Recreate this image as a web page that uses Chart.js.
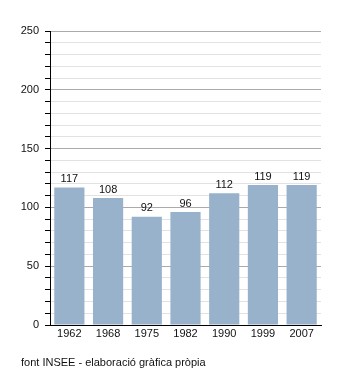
<!DOCTYPE html>
<html>
<head>
<meta charset="utf-8">
<script src="https://cdn.jsdelivr.net/npm/chart.js@4/dist/chart.umd.min.js"></script>
<style>
  html, body { margin: 0; padding: 0; background: #fff; }
  #wrap { width: 350px; height: 373px; position: relative; }
</style>
</head>
<body>
<div id="wrap"><canvas id="popChart"></canvas></div>
<script>
// Population index by census year
const years = ["1962", "1968", "1975", "1982", "1990", "1999", "2007"];
const values = [117, 108, 92, 96, 112, 119, 119];
const yTicks = [0, 50, 100, 150, 200, 250];
const sourceNote = "font INSEE - elaboració gràfica pròpia";

const FONT = "'Liberation Sans', Arial, sans-serif";

// value labels above each bar + source line at the bottom
const labelsPlugin = {
    id: "barLabels",
    afterDatasetsDraw(chart) {
        const c = chart.ctx;
        const meta = chart.getDatasetMeta(0);
        c.save();
        c.font = "11px " + FONT;
        c.fillStyle = "#111";
        c.textAlign = "center";
        c.textBaseline = "bottom";
        meta.data.forEach((bar, i) => {
            c.fillText(String(values[i]), bar.x, bar.y - 3);
        });
        c.textAlign = "left";
        c.textBaseline = "alphabetic";
        c.fillText(sourceNote, 21, 366);
        c.restore();
    }
};

new Chart(document.getElementById("popChart"), {
    type: "bar",
    data: {
        labels: years,
        datasets: [{
            data: values,
            backgroundColor: "#98b2cb",
            borderWidth: 0,
            barPercentage: 0.78,
            categoryPercentage: 1
        }]
    },
    options: {
        responsive: true,
        maintainAspectRatio: false,
        animation: false,
        layout: { padding: { left: 0, right: 29, top: 31, bottom: 29 } },
        plugins: {
            legend: { display: false },
            tooltip: { enabled: false }
        },
        scales: {
            x: {
                grid: { display: false, drawTicks: false },
                border: { display: true, color: "#000", width: 1 },
                ticks: {
                    color: "#111",
                    font: { family: FONT, size: 11 },
                    padding: 2,
                    maxRotation: 0
                },
                afterFit(scale) { scale.height = 19; }
            },
            y: {
                min: 0,
                max: 250,
                ticks: {
                    stepSize: 10,
                    autoSkip: false,
                    color: "#111",
                    font: { family: FONT, size: 11 },
                    padding: 6,
                    callback: v => yTicks.includes(v) ? v : ""
                },
                grid: {
                    drawTicks: true,
                    tickLength: 5,
                    tickColor: "#000",
                    color: ctx => (ctx.tick && ctx.tick.value % 50 === 0) ? "#aaaaaa" : "#e2e2e2",
                    lineWidth: 1
                },
                border: { display: true, color: "#000", width: 1 },
                afterFit(scale) { scale.width = 50; }
            }
        }
    },
    plugins: [labelsPlugin]
});
</script>
</body>
</html>
